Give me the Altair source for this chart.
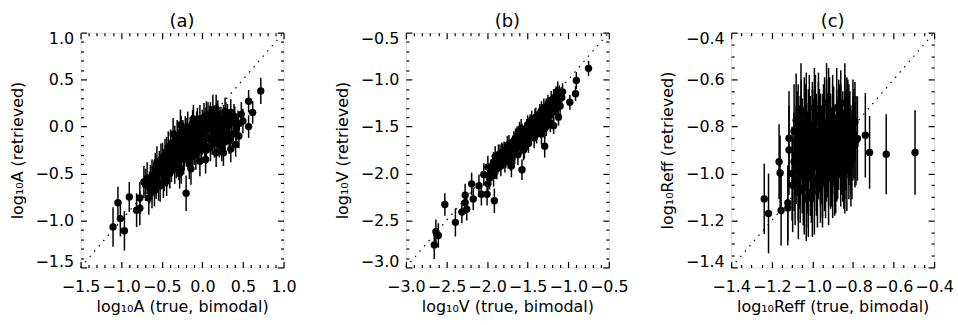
import altair as alt
import pandas as pd

FONT = "DejaVu Sans"

# (true, retrieved, error)
a_points = [
    (0.72, 0.38, 0.14), (0.57, 0.27, 0.12), (0.62, 0.15, 0.12), (0.57, 0.00, 0.12),
    (0.48, 0.13, 0.13), (0.44, 0.03, 0.14), (0.41, -0.19, 0.13), (0.35, -0.24, 0.14),
    (0.35, 0.15, 0.14), (0.28, 0.16, 0.15), (0.17, 0.19, 0.15), (0.13, 0.18, 0.16),
    (0.05, 0.12, 0.15), (-0.03, -0.37, 0.16), (-0.20, -0.71, 0.19), (-0.14, -0.45, 0.17),
    (-0.90, -0.75, 0.16), (-0.72, -0.59, 0.17), (-1.04, -0.81, 0.17), (-1.01, -0.98, 0.19),
    (-1.10, -1.07, 0.21), (-0.96, -1.11, 0.21), (-0.81, -0.89, 0.18), (-0.77, -0.87, 0.18),
    (-0.77, -0.76, 0.17), (-0.66, -0.76, 0.18), (-0.62, -0.70, 0.17), (-0.52, -0.63, 0.17),
    (-0.44, -0.58, 0.16), (-0.51, -0.35, 0.17), (-0.42, -0.22, 0.17), (-0.62, -0.52, 0.17),
    (-0.54, -0.63, 0.16), (-0.26, -0.45, 0.16),
    (-0.60, -0.55, 0.16), (-0.58, -0.45, 0.17), (-0.55, -0.50, 0.16), (-0.50, -0.48, 0.17),
    (-0.48, -0.40, 0.16), (-0.46, -0.30, 0.17), (-0.45, -0.45, 0.16), (-0.42, -0.38, 0.17),
    (-0.40, -0.30, 0.16), (-0.38, -0.42, 0.17), (-0.36, -0.25, 0.16), (-0.35, -0.33, 0.17),
    (-0.33, -0.20, 0.16), (-0.32, -0.38, 0.17), (-0.30, -0.28, 0.16), (-0.28, -0.15, 0.17),
    (-0.27, -0.32, 0.16), (-0.25, -0.22, 0.16), (-0.24, -0.10, 0.17), (-0.22, -0.27, 0.16),
    (-0.20, -0.18, 0.16), (-0.19, -0.08, 0.17), (-0.17, -0.30, 0.16), (-0.16, -0.13, 0.16),
    (-0.14, -0.22, 0.15), (-0.13, -0.04, 0.16), (-0.11, -0.15, 0.15), (-0.10, -0.25, 0.16),
    (-0.08, -0.08, 0.15), (-0.07, 0.00, 0.16), (-0.05, -0.18, 0.15), (-0.04, -0.05, 0.15),
    (-0.02, -0.12, 0.15), (0.00, 0.03, 0.15), (0.01, -0.08, 0.15), (0.03, -0.20, 0.15),
    (0.04, 0.05, 0.15), (0.06, -0.03, 0.14), (0.08, -0.12, 0.15), (0.09, 0.08, 0.14),
    (0.11, -0.02, 0.14), (0.12, -0.15, 0.15), (0.14, 0.05, 0.14), (0.16, -0.08, 0.14),
    (0.18, 0.10, 0.14), (0.20, -0.04, 0.14), (0.21, -0.18, 0.15), (0.23, 0.07, 0.14),
    (0.25, -0.10, 0.14), (0.27, 0.02, 0.14), (0.30, -0.06, 0.14), (0.31, 0.10, 0.14),
    (0.33, -0.15, 0.14), (0.36, 0.04, 0.14), (0.38, -0.08, 0.14), (0.40, 0.08, 0.13),
    (0.42, -0.02, 0.13), (-0.70, -0.62, 0.17), (-0.68, -0.55, 0.17), (-0.65, -0.65, 0.17),
    (-0.57, -0.60, 0.17), (-0.53, -0.42, 0.16), (-0.47, -0.52, 0.17), (-0.43, -0.48, 0.16),
    (-0.37, -0.35, 0.16), (-0.31, -0.10, 0.17), (-0.29, -0.40, 0.17), (-0.23, -0.35, 0.16),
    (-0.21, -0.05, 0.16), (-0.18, -0.22, 0.16), (-0.12, -0.32, 0.16), (-0.09, -0.20, 0.15),
    (-0.06, 0.05, 0.15), (-0.01, -0.25, 0.15), (0.02, 0.10, 0.15), (0.07, 0.12, 0.14),
    (0.10, -0.22, 0.15), (0.15, -0.18, 0.15), (0.19, 0.14, 0.14), (0.24, -0.22, 0.15),
    (0.29, 0.12, 0.14), (0.34, -0.12, 0.14), (0.39, 0.11, 0.13), (0.45, -0.10, 0.13),
    (0.50, 0.06, 0.13),
    (-0.56, -0.38, 0.17), (-0.49, -0.33, 0.16), (-0.44, -0.27, 0.16), (-0.39, -0.20, 0.17),
    (-0.34, -0.15, 0.16), (-0.31, -0.22, 0.16), (-0.26, -0.05, 0.16), (-0.23, -0.12, 0.16),
    (-0.18, 0.00, 0.16), (-0.15, -0.06, 0.16), (-0.12, 0.03, 0.15), (-0.09, -0.12, 0.15),
    (-0.06, -0.25, 0.15), (-0.03, 0.08, 0.15), (0.00, -0.15, 0.15), (0.02, -0.03, 0.15),
    (0.05, -0.25, 0.15), (0.07, 0.02, 0.15), (0.10, 0.12, 0.14), (0.13, -0.05, 0.15),
    (0.16, 0.02, 0.14), (0.19, -0.12, 0.14), (0.22, 0.00, 0.14), (0.26, 0.09, 0.14),
    (0.28, -0.16, 0.14), (0.32, 0.01, 0.14), (-0.64, -0.58, 0.17), (-0.59, -0.68, 0.17),
    (-0.48, -0.60, 0.16), (-0.40, -0.50, 0.16), (-0.34, -0.45, 0.16), (-0.28, -0.50, 0.16),
    (-0.16, -0.40, 0.16), (-0.08, -0.30, 0.16), (0.04, -0.35, 0.15), (0.17, -0.28, 0.15),
    (0.26, -0.28, 0.14), (-0.36, -0.08, 0.17), (-0.27, 0.02, 0.16), (-0.11, 0.08, 0.15),
]

b_points = [
    (-0.75, -0.88, 0.08), (-0.90, -1.01, 0.09), (-0.91, -1.15, 0.08), (-0.98, -1.24, 0.08),
    (-1.13, -1.12, 0.10), (-1.07, -1.13, 0.09), (-1.12, -1.40, 0.09), (-1.18, -1.49, 0.09),
    (-1.29, -1.52, 0.10), (-1.29, -1.71, 0.12), (-1.57, -1.96, 0.11), (-1.54, -1.73, 0.11),
    (-1.66, -1.79, 0.11), (-1.70, -1.92, 0.12), (-1.86, -1.80, 0.11), (-1.92, -2.02, 0.12),
    (-1.91, -2.29, 0.13), (-1.99, -2.11, 0.12), (-2.00, -2.22, 0.12), (-2.07, -2.22, 0.12),
    (-2.17, -2.27, 0.12), (-2.19, -2.11, 0.12), (-2.10, -2.13, 0.12), (-2.04, -2.01, 0.12),
    (-2.27, -2.23, 0.12), (-2.27, -2.31, 0.12), (-2.31, -2.41, 0.12), (-2.25, -2.38, 0.12),
    (-2.52, -2.33, 0.12), (-2.39, -2.52, 0.15), (-2.63, -2.62, 0.13), (-2.60, -2.66, 0.13),
    (-2.65, -2.76, 0.15), (-1.99, -1.93, 0.12), (-1.89, -1.90, 0.12), (-1.81, -1.79, 0.11),
    (-1.95, -1.97, 0.11), (-1.92, -1.88, 0.11), (-1.88, -1.95, 0.11), (-1.85, -1.85, 0.11),
    (-1.83, -1.92, 0.11), (-1.80, -1.83, 0.11), (-1.78, -1.88, 0.11), (-1.76, -1.78, 0.10),
    (-1.74, -1.84, 0.11), (-1.72, -1.74, 0.10), (-1.70, -1.80, 0.10), (-1.68, -1.70, 0.10),
    (-1.66, -1.76, 0.10), (-1.64, -1.67, 0.10), (-1.62, -1.72, 0.10), (-1.60, -1.63, 0.10),
    (-1.58, -1.70, 0.10), (-1.56, -1.60, 0.10), (-1.54, -1.65, 0.10), (-1.52, -1.56, 0.10),
    (-1.50, -1.62, 0.10), (-1.48, -1.53, 0.10), (-1.46, -1.58, 0.10), (-1.44, -1.49, 0.10),
    (-1.42, -1.55, 0.10), (-1.40, -1.45, 0.10), (-1.38, -1.52, 0.10), (-1.36, -1.42, 0.10),
    (-1.34, -1.48, 0.10), (-1.32, -1.38, 0.10), (-1.30, -1.45, 0.10), (-1.28, -1.35, 0.10),
    (-1.26, -1.42, 0.10), (-1.24, -1.31, 0.10), (-1.22, -1.38, 0.10), (-1.20, -1.27, 0.10),
    (-1.18, -1.34, 0.10), (-1.16, -1.24, 0.10), (-1.14, -1.30, 0.10), (-1.12, -1.22, 0.10),
    (-1.10, -1.28, 0.10), (-1.60, -1.55, 0.10), (-1.50, -1.48, 0.10), (-1.45, -1.43, 0.10),
    (-1.35, -1.36, 0.10), (-1.25, -1.26, 0.10), (-1.55, -1.75, 0.11), (-1.42, -1.62, 0.11),
    (-1.33, -1.58, 0.11), (-1.22, -1.46, 0.10), (-1.75, -1.70, 0.10), (-1.65, -1.62, 0.10),
    (-1.82, -1.78, 0.11), (-1.90, -1.82, 0.11), (-1.97, -2.05, 0.12), (-1.58, -1.52, 0.10),
    (-1.40, -1.40, 0.10), (-1.30, -1.30, 0.10), (-1.18, -1.20, 0.10), (-1.15, -1.17, 0.10),
    (-1.08, -1.19, 0.09),
    (-1.93, -1.92, 0.11), (-1.87, -1.90, 0.11), (-1.84, -1.80, 0.11), (-1.79, -1.76, 0.10),
    (-1.77, -1.83, 0.11), (-1.73, -1.69, 0.10), (-1.69, -1.74, 0.10), (-1.67, -1.65, 0.10),
    (-1.63, -1.60, 0.10), (-1.61, -1.68, 0.10), (-1.57, -1.57, 0.10), (-1.53, -1.61, 0.10),
    (-1.51, -1.52, 0.10), (-1.47, -1.47, 0.10), (-1.43, -1.52, 0.10), (-1.41, -1.41, 0.10),
    (-1.37, -1.46, 0.10), (-1.33, -1.33, 0.10), (-1.31, -1.40, 0.10), (-1.27, -1.30, 0.10),
    (-1.23, -1.36, 0.10), (-1.21, -1.22, 0.10), (-1.17, -1.28, 0.10), (-1.13, -1.25, 0.10),
    (-1.11, -1.16, 0.10), (-1.49, -1.68, 0.10), (-1.39, -1.58, 0.10), (-1.27, -1.50, 0.10),
    (-1.62, -1.80, 0.11), (-1.71, -1.86, 0.11),
]

c_points = [
    (-0.494, -0.910, 0.18), (-0.636, -0.918, 0.17), (-0.718, -0.910, 0.155),
    (-0.739, -0.837, 0.18), (-0.790, -0.780, 0.17), (-0.778, -0.851, 0.18),
    (-0.840, -0.700, 0.17), (-1.237, -1.108, 0.15), (-1.216, -1.170, 0.17),
    (-1.164, -0.950, 0.16), (-1.159, -0.998, 0.16), (-1.154, -1.157, 0.15),
    (-1.121, -1.125, 0.16), (-1.121, -1.147, 0.16), (-1.115, -0.850, 0.20),
    (-1.115, -0.900, 0.19), (-1.100, -1.000, 0.20), (-1.097, -1.050, 0.20),
    (-1.080, -0.774, 0.20), (-1.056, -0.730, 0.20), (-1.069, -1.080, 0.20),
    (-1.030, -1.108, 0.18), (-1.090, -0.820, 0.20),
    (-1.08, -0.92, 0.21), (-1.07, -0.82, 0.20), (-1.06, -1.00, 0.21), (-1.05, -0.88, 0.20),
    (-1.05, -0.95, 0.22), (-1.04, -0.78, 0.19), (-1.03, -0.90, 0.21), (-1.02, -1.02, 0.21),
    (-1.02, -0.85, 0.21), (-1.01, -0.96, 0.22), (-1.00, -0.80, 0.19), (-1.00, -0.92, 0.21),
    (-0.99, -1.05, 0.21), (-0.98, -0.87, 0.21), (-0.98, -0.97, 0.21), (-0.97, -0.82, 0.21),
    (-0.96, -0.93, 0.21), (-0.96, -1.00, 0.21), (-0.95, -0.86, 0.20), (-0.94, -0.78, 0.19),
    (-0.94, -0.95, 0.21), (-0.93, -0.90, 0.22), (-0.92, -1.02, 0.20), (-0.92, -0.83, 0.20),
    (-0.91, -0.94, 0.21), (-0.90, -0.88, 0.21), (-0.90, -0.76, 0.18), (-0.89, -0.98, 0.20),
    (-0.88, -0.85, 0.21), (-0.88, -0.92, 0.20), (-0.87, -0.80, 0.20), (-0.86, -0.95, 0.19),
    (-0.86, -0.88, 0.20), (-0.85, -0.84, 0.19), (-0.84, -0.91, 0.20), (-0.84, -0.77, 0.19),
    (-0.83, -0.97, 0.19), (-0.82, -0.86, 0.19), (-0.82, -0.82, 0.20), (-0.81, -0.90, 0.19),
    (-0.80, -0.85, 0.18), (-0.80, -0.79, 0.19), (-0.79, -0.88, 0.18), (-1.07, -0.98, 0.22),
    (-1.04, -1.06, 0.20), (-1.01, -0.88, 0.21), (-0.99, -0.84, 0.20), (-0.97, -0.90, 0.21),
    (-0.95, -0.99, 0.20), (-0.93, -0.81, 0.21), (-0.91, -0.86, 0.20), (-0.89, -0.92, 0.20),
    (-0.87, -0.87, 0.20), (-0.85, -0.93, 0.19), (-0.83, -0.83, 0.19), (-0.81, -0.95, 0.19),
    (-0.97, -0.75, 0.18), (-0.92, -0.73, 0.18), (-1.03, -0.75, 0.18), (-0.86, -0.74, 0.18),
    (-0.95, -1.04, 0.19), (-0.90, -1.00, 0.19), (-0.84, -0.99, 0.18), (-1.00, -1.08, 0.19),
    (-1.075, -0.86, 0.21), (-1.065, -0.93, 0.22), (-1.055, -0.80, 0.20), (-1.045, -1.01, 0.21),
    (-1.035, -0.84, 0.22), (-1.025, -0.96, 0.21), (-1.015, -0.79, 0.21), (-1.005, -1.00, 0.21),
    (-0.995, -0.90, 0.22), (-0.985, -0.78, 0.20), (-0.975, -1.02, 0.21), (-0.965, -0.86, 0.22),
    (-0.955, -0.92, 0.21), (-0.945, -0.83, 0.21), (-0.935, -0.98, 0.21), (-0.925, -0.88, 0.22),
    (-0.915, -0.79, 0.20), (-0.905, -0.93, 0.21), (-0.895, -0.84, 0.21), (-0.885, -0.97, 0.20),
    (-0.875, -0.90, 0.21), (-0.865, -0.82, 0.20), (-0.855, -0.89, 0.20), (-0.845, -0.95, 0.20),
    (-0.835, -0.87, 0.20), (-0.825, -0.79, 0.19), (-0.815, -0.84, 0.19), (-0.805, -0.92, 0.19),
    (-0.795, -0.83, 0.19), (-0.785, -0.86, 0.19), (-1.06, -0.90, 0.23), (-1.04, -0.97, 0.23),
    (-1.02, -0.93, 0.23), (-1.00, -0.86, 0.22), (-0.98, -0.93, 0.23), (-0.96, -0.89, 0.23),
    (-0.94, -0.86, 0.22), (-0.92, -0.91, 0.23), (-0.90, -0.84, 0.22), (-0.88, -0.89, 0.22),
    (-0.86, -0.83, 0.21), (-0.84, -0.86, 0.21), (-0.82, -0.90, 0.21), (-1.09, -0.95, 0.21),
    (-1.085, -1.03, 0.19), (-0.93, -0.70, 0.17), (-0.88, -0.72, 0.17), (-0.99, -0.72, 0.17),
    (-0.83, -0.78, 0.19), (-1.02, -1.10, 0.17),
]

a_major = [-1.5, -1.0, -0.5, 0.0, 0.5, 1.0]
b_major = [-3.0, -2.5, -2.0, -1.5, -1.0, -0.5]
c_major = [-1.4, -1.2, -1.0, -0.8, -0.6, -0.4]


def minor_ticks(major, n_sub):
    out = []
    for i in range(len(major) - 1):
        step = (major[i + 1] - major[i]) / n_sub
        for k in range(n_sub):
            out.append(round(major[i] + k * step, 4))
    out.append(major[-1])
    return out


def panel(points, major, n_sub, xtitle, ytitle, title):
    lo, hi = major[0], major[-1]
    df = pd.DataFrame(points, columns=["t", "r", "e"])
    df["r_lo"] = df["r"] - df["e"]
    df["r_hi"] = df["r"] + df["e"]
    diag = pd.DataFrame({"t": [lo, hi], "r": [lo, hi]})
    ticks = minor_ticks(major, n_sub)
    mult = round(n_sub / (major[1] - major[0]))
    test = f"abs(round(datum.value*{mult})) % {n_sub} == 0"
    sc = alt.Scale(domain=[lo, hi], nice=False, zero=False)
    common = dict(
        values=ticks, grid=False, domain=False,
        tickSize={"condition": {"test": test, "value": -6}, "value": -3},
        tickColor="black", tickWidth=1.2,
        labelFont=FONT, labelFontSize=16, labelColor="black",
        labelOverlap=False, labelBound=False,
        titleFont=FONT, titleFontSize=16, titleColor="black", titleFontWeight="normal",
        labelExpr=f"({test}) ? format(datum.value, '.1f') : ''",
    )
    xb = alt.Axis(orient="bottom", title=xtitle, labelPadding=17, titlePadding=1,
                  labelFlush=False, **common)
    yl = alt.Axis(orient="left", title=ytitle, labelPadding=13, titlePadding=10,
                  labelFlush=True, labelFlushOffset=2, **common)
    xt = alt.Axis(orient="top", title=None, labels=False, **common)
    yr = alt.Axis(orient="right", title=None, labels=False, **common)

    line = alt.Chart(diag).mark_line(strokeDash=[1.5, 5.5], color="black", strokeWidth=1.2).encode(
        x=alt.X("t:Q", scale=sc, axis=None), y=alt.Y("r:Q", scale=sc, axis=None))
    bars = alt.Chart(df).mark_rule(color="black", strokeWidth=1.5).encode(
        x=alt.X("t:Q", scale=sc, axis=None), y=alt.Y("r_lo:Q", scale=sc, axis=None), y2="r_hi:Q")
    dots = alt.Chart(df).mark_circle(size=55, color="black", opacity=1).encode(
        x=alt.X("t:Q", scale=sc, axis=xb), y=alt.Y("r:Q", scale=sc, axis=yl))
    mirror = alt.Chart(df).mark_circle(opacity=0).encode(
        x=alt.X("t:Q", scale=sc, axis=xt), y=alt.Y("r:Q", scale=sc, axis=yr))
    return alt.layer(line, bars, dots, mirror).resolve_axis(
        x="independent", y="independent").properties(
        width=204, height=236,
        title=alt.TitleParams(title, font=FONT, fontSize=18, fontWeight="normal",
                              color="black", anchor="middle", offset=-1))


pa = panel(a_points, a_major, 5, "log₁₀A (true, bimodal)", "log₁₀A (retrieved)", "(a)")
pb = panel(b_points, b_major, 5, "log₁₀V (true, bimodal)", "log₁₀V (retrieved)", "(b)")
pc = panel(c_points, c_major, 4, "log₁₀Reff (true, bimodal)", "log₁₀Reff  (retrieved)", "(c)")

chart = alt.hconcat(pa, pb, pc, spacing=123, bounds="flush").properties(
    padding={"left": 8, "top": 12, "right": 4, "bottom": 2}
).configure_view(stroke="black", strokeWidth=1.2).configure(background="white")

chart.save("out.html", embed_options={"renderer": "svg", "actions": False})
